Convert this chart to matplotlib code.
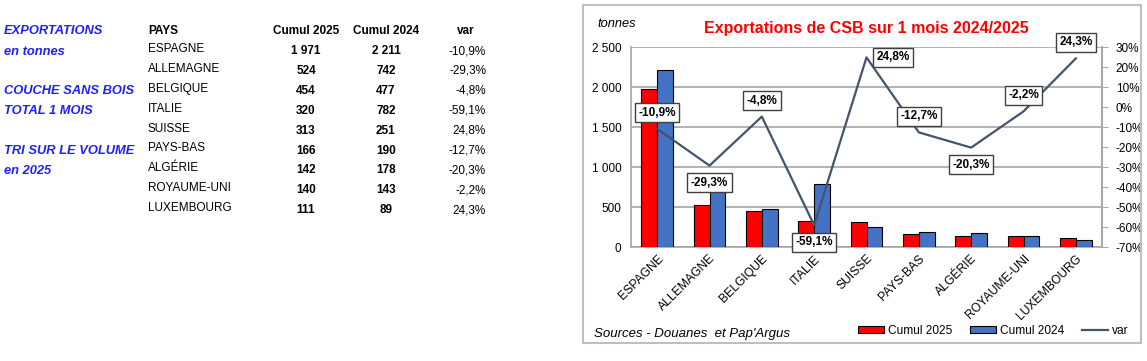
import matplotlib
matplotlib.use('Agg')
import matplotlib.pyplot as plt
from matplotlib.patches import Rectangle, Patch
from matplotlib.lines import Line2D
from matplotlib.ticker import FuncFormatter
import numpy as np

plt.rcParams['font.family'] = ['Liberation Sans', 'DejaVu Sans']

#%% Données
pays = ['ESPAGNE', 'ALLEMAGNE', 'BELGIQUE', 'ITALIE', 'SUISSE',
        'PAYS-BAS', 'ALGÉRIE', 'ROYAUME-UNI', 'LUXEMBOURG']
cumul_2025 = [1971, 524, 454, 320, 313, 166, 142, 140, 111]
cumul_2024 = [2211, 742, 477, 782, 251, 190, 178, 143, 89]
var = [-10.9, -29.3, -4.8, -59.1, 24.8, -12.7, -20.3, -2.2, 24.3]

titres_gauche = ['EXPORTATIONS', 'en tonnes', 'COUCHE SANS BOIS', 'TOTAL 1 MOIS',
                 'TRI SUR LE VOLUME', 'en 2025']
entetes = ['PAYS', 'Cumul 2025', 'Cumul 2024', 'var']

#%% Outils
W, H = 1147, 361
def fx(px):
    return px / W
def fy(py):
    return 1 - py / H

def milliers(v):
    return '{:,.0f}'.format(v).replace(',', ' ')

def pct(v):
    return '{:.1f}%'.format(v).replace('.', ',')

bleu_txt = '#1E1EFF'
rouge = '#FF0000'
bleu = '#4472C4'
gris_ligne = '#44546A'
gris = '#A6A6A6'

fig = plt.figure(figsize=(W / 100, H / 100), dpi=100)

#%% Tableau à gauche
y_titres = [31, 52, 91, 111, 151, 171]
for t, y in zip(titres_gauche, y_titres):
    fig.text(fx(4), fy(y), t, color=bleu_txt, fontsize=9.3, fontweight='bold',
             style='italic', va='center', ha='left')

fig.text(fx(148), fy(31), entetes[0], fontsize=8.5, fontweight='bold', va='center')
fig.text(fx(306), fy(31), entetes[1], fontsize=8.5, fontweight='bold', va='center', ha='center')
fig.text(fx(386), fy(31), entetes[2], fontsize=8.5, fontweight='bold', va='center', ha='center')
fig.text(fx(466), fy(31), entetes[3], fontsize=8.5, fontweight='bold', va='center', ha='center')

for i in range(len(pays)):
    y = 49 + 19.9 * i
    fig.text(fx(148), fy(y), pays[i], fontsize=8.5, va='center')
    fig.text(fx(306), fy(y + 2), milliers(cumul_2025[i]), fontsize=8.5,
             fontweight='bold', va='center', ha='center')
    fig.text(fx(386), fy(y + 2), milliers(cumul_2024[i]), fontsize=8.5,
             fontweight='bold', va='center', ha='center')
    fig.text(fx(486), fy(y + 2), pct(var[i]), fontsize=8.5, va='center', ha='right')

#%% Graphique
fig.patches.append(Rectangle((fx(583), fy(343)), fx(1141) - fx(583), fy(5) - fy(343),
                             transform=fig.transFigure, fill=False,
                             edgecolor='#BFBFBF', lw=1.5, zorder=0))

ax = fig.add_axes([fx(631), fy(247), fx(1102) - fx(631), fy(47) - fy(247)])
x = np.arange(len(pays))
larg = 0.3
ax.bar(x - larg / 2, cumul_2025, larg, color=rouge, edgecolor='black', lw=0.8, zorder=3)
ax.bar(x + larg / 2, cumul_2024, larg, color=bleu, edgecolor='black', lw=0.8, zorder=3)
ax.set_xlim(-0.5, len(pays) - 0.5)
ax.set_ylim(0, 2500)
ax.set_yticks(np.arange(0, 2501, 500))
ax.yaxis.set_major_formatter(FuncFormatter(lambda v, p: milliers(v)))
ax.grid(axis='y', color=gris, lw=1.2, zorder=0)
ax.set_axisbelow(True)
ax.tick_params(axis='y', length=0, pad=7, labelsize=8.5)
ax.tick_params(axis='x', length=0, pad=4, labelsize=8.7)
ax.set_xticks(x)
ax.set_xticklabels(pays, rotation=45, ha='right', rotation_mode='anchor')
for s in ['left', 'bottom', 'right']:
    ax.spines[s].set_color(gris)
    ax.spines[s].set_linewidth(1.2)
ax.spines['top'].set_visible(False)

ax2 = ax.twinx()
ax2.plot(x, np.array(var) / 100, color=gris_ligne, lw=1.6, zorder=4)
ax2.set_ylim(-0.7, 0.3)
ax2.set_yticks(np.arange(-0.7, 0.31, 0.1))
ax2.yaxis.set_major_formatter(FuncFormatter(lambda v, p: '{:d}%'.format(int(round(v * 100)))))
ax2.tick_params(axis='y', length=4, color=gris, pad=6, labelsize=8.5)
for s in ['left', 'bottom', 'top']:
    ax2.spines[s].set_visible(False)
ax2.spines['right'].set_color(gris)
ax2.spines['right'].set_linewidth(1.2)

# étiquettes de la courbe
pos_etiq = ['haut', 'bas', 'haut', 'bas', 'droite', 'haut', 'bas', 'haut', 'haut']
for i, v in enumerate(var):
    if pos_etiq[i] == 'haut':
        off, ha = (0, 16), 'center'
    elif pos_etiq[i] == 'bas':
        off, ha = (0, -17), 'center'
    else:
        off, ha = (10, 0), 'left'
    ax2.annotate(pct(v), (x[i], v / 100), xytext=off, textcoords='offset pixels',
                 ha=ha, va='center', fontsize=8.5, fontweight='bold', zorder=6,
                 bbox=dict(boxstyle='square,pad=0.3', fc='white', ec='#404040', lw=1.0))

fig.text(fx(866), fy(28), 'Exportations de CSB sur 1 mois 2024/2025', color=rouge,
         fontsize=11.5, fontweight='bold', ha='center', va='center')
fig.text(fx(617), fy(24), 'tonnes', style='italic', fontsize=9.3, ha='center', va='center')
fig.text(fx(594), fy(334), "Sources - Douanes  et Pap'Argus", style='italic', fontsize=9.5,
         ha='left', va='center')

poignees = [Patch(facecolor=rouge, edgecolor='black', lw=0.8),
            Patch(facecolor=bleu, edgecolor='black', lw=0.8),
            Line2D([0], [0], color=gris_ligne, lw=1.6)]
fig.legend(poignees, ['Cumul 2025', 'Cumul 2024', 'var'], loc='center left',
           bbox_to_anchor=(fx(858), fy(331)), ncol=3, frameon=False, fontsize=8.6,
           handlelength=2.2, handleheight=0.5, handletextpad=0.3, columnspacing=1.5,
           borderpad=0, borderaxespad=0)

fig.savefig('out.png', dpi=100)
